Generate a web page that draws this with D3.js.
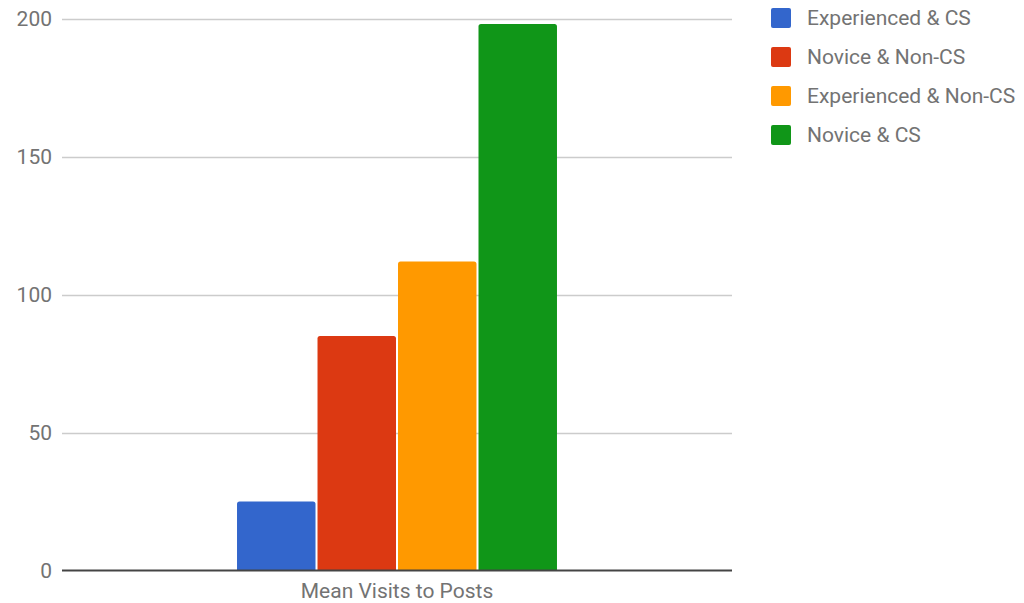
<!DOCTYPE html>
<html>
<head>
<meta charset="utf-8">
<script src="https://cdn.jsdelivr.net/npm/d3@7"></script>
<style>
  html, body { margin: 0; padding: 0; background: #fff; }
  text { font-family: Roboto, "Noto Sans", sans-serif; }
</style>
</head>
<body>
<svg id="chart" width="1024" height="603"></svg>
<script>
const categories = ["Mean Visits to Posts"];
const seriesNames = ["Experienced & CS", "Novice & Non-CS", "Experienced & Non-CS", "Novice & CS"];
const seriesValues = [25, 85, 112, 198];
const seriesColors = ["#3366cc", "#dc3912", "#ff9900", "#109618"];
const yTicks = [0, 50, 100, 150, 200];

(function () {
const svg = d3.select("#chart");
const plotLeft = 62, plotRight = 732, plotTop = 18.5, plotBottom = 570.5;
const fontSize = "21px";

const y = d3.scaleLinear().domain([0, 200]).range([plotBottom, plotTop]);
const x0 = d3.scaleBand().domain(categories).range([plotLeft, plotRight]).paddingInner(0).paddingOuter(0.547);
const x1 = d3.scaleBand().domain(seriesNames).range([0, x0.bandwidth()]).paddingInner(0.025);

// gridlines
svg.append("g")
  .selectAll("line")
  .data(yTicks.filter(d => d !== 0))
  .join("line")
  .attr("x1", plotLeft).attr("x2", plotRight)
  .attr("y1", d => Math.round(y(d)) + 0.5).attr("y2", d => Math.round(y(d)) + 0.5)
  .attr("stroke", "#cccccc").attr("stroke-width", 1.5);

// y axis labels
const yAxis = d3.axisLeft(y).tickValues(yTicks).tickSize(0).tickPadding(10);
const ya = svg.append("g").attr("transform", `translate(${plotLeft},0)`).call(yAxis);
ya.select(".domain").remove();
ya.selectAll("text").attr("fill", "#737373").style("font-size", fontSize).attr("dy", "0.34em");

// bars
const g = svg.append("g");
categories.forEach(cat => {
  g.selectAll("path.bar")
    .data(seriesNames.map((s, i) => ({ s, v: seriesValues[i], c: seriesColors[i] })))
    .join("path")
    .attr("class", "bar")
    .attr("fill", d => d.c)
    .attr("d", d => {
      const bx = x0(cat) + x1(d.s), bw = x1.bandwidth();
      const by = y(d.v), bh = y(0) - y(d.v), r = 2.5;
      return `M${bx},${by + bh} V${by + r} Q${bx},${by} ${bx + r},${by} H${bx + bw - r} Q${bx + bw},${by} ${bx + bw},${by + r} V${by + bh} Z`;
    });
});

// baseline
svg.append("line")
  .attr("x1", plotLeft).attr("x2", plotRight)
  .attr("y1", y(0)).attr("y2", y(0))
  .attr("stroke", "#444444").attr("stroke-width", 2);

// x axis label
const xAxis = d3.axisBottom(x0).tickSize(0).tickPadding(13);
const xa = svg.append("g").attr("transform", `translate(0,${y(0)})`).call(xAxis);
xa.select(".domain").remove();
xa.selectAll("text").attr("fill", "#737373").style("font-size", fontSize);

// legend
const legend = svg.append("g").attr("transform", "translate(771,8)");
const items = legend.selectAll("g").data(seriesNames).join("g")
  .attr("transform", (d, i) => `translate(0,${i * 39})`);
items.append("rect").attr("width", 20).attr("height", 20).attr("rx", 2)
  .attr("fill", (d, i) => seriesColors[i]);
items.append("text").attr("x", 36).attr("y", 10).attr("dy", "0.35em")
  .attr("fill", "#737373").style("font-size", fontSize).text(d => d);
})();
</script>
</body>
</html>
